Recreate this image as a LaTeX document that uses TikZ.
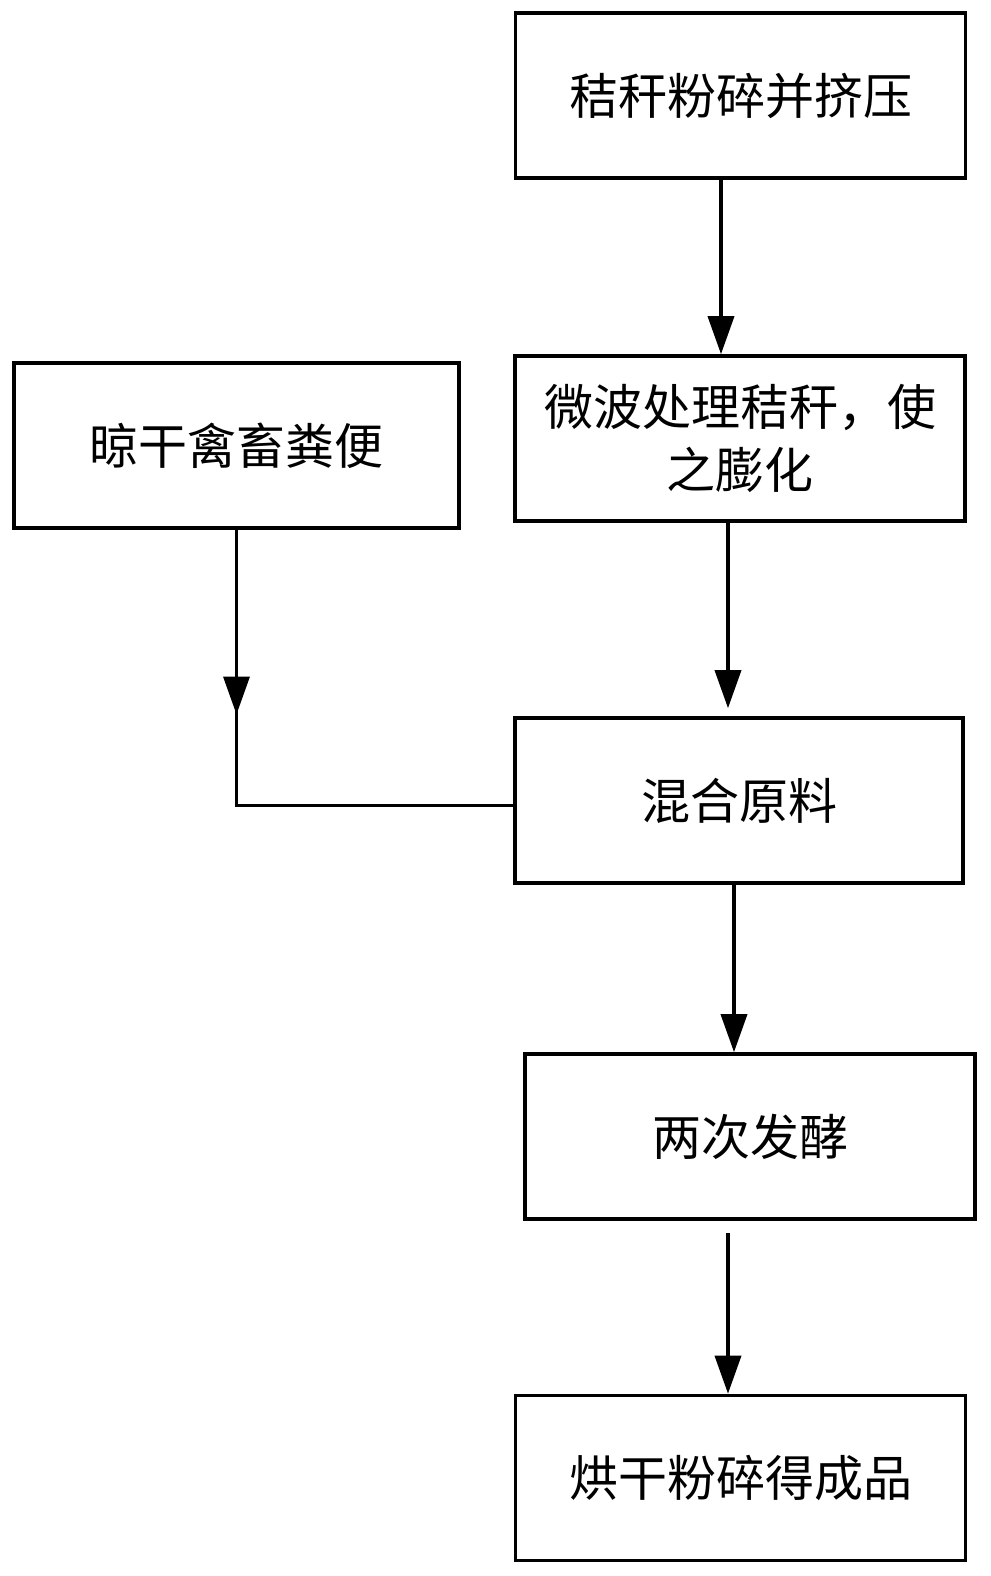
\documentclass[tikz,border=0pt]{standalone}
\usepackage{fontspec}
\setmainfont{Noto Sans CJK SC}
\usetikzlibrary{positioning,arrows.meta}
\tikzset{
  stepbox/.style={rectangle, draw, line width=1.8pt, minimum width=225pt, minimum height=82.5pt,
                  inner sep=0pt, align=center, font=\fontsize{24.5}{31.5}\selectfont},
  fwd/.style={-{Triangle[length=19pt,width=13pt]}, line width=1.8pt},
  link/.style={line width=1.8pt},
}

\begin{document}
\begin{tikzpicture}[x=0.5pt, y=-0.5pt]
  \useasboundingbox (0,0) rectangle (991,1576);

  \node[stepbox] (straw1) at (740.5,95.5) {秸秆粉碎并挤压};
  \node[stepbox] (straw2) at (740,438.5) {微波处理秸秆，使\\之膨化};
  \node[stepbox, minimum width=222.5pt] (manure) at (236.5,445.5) {晾干禽畜粪便};
  \node[stepbox, minimum width=224pt] (mix) at (739,800.5) {混合原料};
  \node[stepbox] (ferm) at (750,1136.5) {两次发酵};
  \node[stepbox] (prod) at (740.5,1478) {烘干粉碎得成品};
  \coordinate (bend) at ([yshift=-2.5pt]manure.south |- mix.west);

  \draw[fwd] ([xshift=-9.75pt]straw1.south) coordinate (s1) -- (s1 |- straw2.north);
  \draw[fwd, shorten >=4pt] ([xshift=-6pt]straw2.south) coordinate (s2) -- (s2 |- mix.north);
  \draw[link] (manure.south) -- (bend) -- (bend -| mix.west);
  \draw[fwd] (manure.south) -- ([yshift=45.5pt]bend);
  \draw[fwd] ([xshift=-2.5pt]mix.south) coordinate (m1) -- (m1 |- ferm.north);
  \draw[fwd, shorten <=6pt] ([xshift=-11pt]ferm.south) coordinate (f1) -- (f1 |- prod.north);
\end{tikzpicture}
\end{document}
